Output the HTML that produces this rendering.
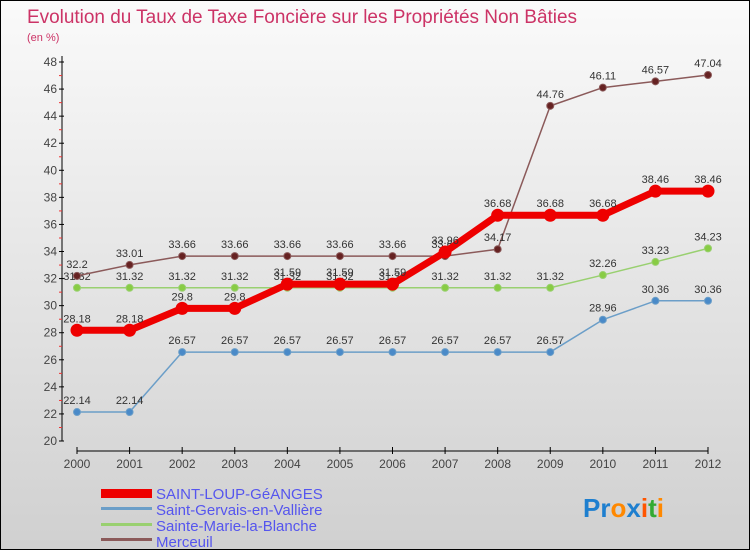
<!DOCTYPE html>
<html><head><meta charset="utf-8"><style>
body{margin:0}
#c{width:748px;height:548px;border:1px solid #000;background:linear-gradient(#fafafa,#d0d0d0);position:relative;font-family:"Liberation Sans",sans-serif}
</style></head><body>
<div id="c">
<svg id="s" width="748" height="548" xmlns="http://www.w3.org/2000/svg">
<text x="26" y="22" font-size="19" fill="#cc3366" textLength="550">Evolution du Taux de Taxe Foncière sur les Propriétés Non Bâties</text>
<text x="26" y="40" font-size="11" fill="#cc3366">(en %)</text>
<g id="axes"></g><g id="series"></g>
<g>
<rect x="100" y="488" width="51" height="9" fill="#ee0000"/>
<text x="155" y="498" font-size="15" fill="#5555ee">SAINT-LOUP-GéANGES</text>
<rect x="100" y="506" width="51" height="3" fill="#6b9ec8"/>
<text x="155" y="514" font-size="15" fill="#5555ee">Saint-Gervais-en-Vallière</text>
<rect x="100" y="522" width="51" height="3" fill="#99d070"/>
<text x="155" y="530" font-size="15" fill="#5555ee">Sainte-Marie-la-Blanche</text>
<rect x="100" y="537" width="51" height="3" fill="#8b5a5a"/>
<text x="155" y="546" font-size="15" fill="#5555ee">Merceuil</text>
</g>
<text x="582" y="516" font-size="26" font-weight="bold"><tspan fill="#1e7fcf">Pr</tspan><tspan fill="#ff8800">o</tspan><tspan fill="#1e7fcf">x</tspan><tspan fill="#ff5500">i</tspan><tspan fill="#33aa33">t</tspan><tspan fill="#ff8800">i</tspan></text>
</svg></div>
<script>
const years=[2000,2001,2002,2003,2004,2005,2006,2007,2008,2009,2010,2011,2012];
const yTicks=[20,22,24,26,28,30,32,34,36,38,40,42,44,46,48];
const saintLoup=[28.18,28.18,29.8,29.8,31.59,31.59,31.59,33.96,36.68,36.68,36.68,38.46,38.46];
const saintGervais=[22.14,22.14,26.57,26.57,26.57,26.57,26.57,26.57,26.57,26.57,28.96,30.36,30.36];
const sainteMarie=[31.32,31.32,31.32,31.32,31.32,31.32,31.32,31.32,31.32,31.32,32.26,33.23,34.23];
const merceuil=[32.2,33.01,33.66,33.66,33.66,33.66,33.66,33.66,34.17,44.76,46.11,46.57,47.04];
const NS="http://www.w3.org/2000/svg";
const xS=i=>76+i*(707-76)/(years.length-1);
const yS=v=>440-(v-20)*(440-61)/28;
function mk(t,a,p){const e=document.createElementNS(NS,t);for(const k in a)e.setAttribute(k,a[k]);p.appendChild(e);return e;}
const ax=document.getElementById('axes');
mk('line',{x1:61,y1:55,x2:61,y2:440,stroke:'#000','stroke-width':1},ax);
mk('line',{x1:76,y1:450,x2:707,y2:450,stroke:'#000','stroke-width':1},ax);
yTicks.forEach((v,k)=>{const y=yS(v);
mk('line',{x1:58,y1:y,x2:63,y2:y,stroke:'#000'},ax);
if(k<yTicks.length-1)mk('line',{x1:58,y1:y-13.5,x2:61,y2:y-13.5,stroke:'#e33'},ax);
const t=mk('text',{x:56,y:y+4,'font-size':12,fill:'#444','text-anchor':'end'},ax);t.textContent=v;

});
years.forEach((yr,i)=>{const x=xS(i);
mk('line',{x1:x,y1:446,x2:x,y2:453,stroke:'#000'},ax);
const t=mk('text',{x:x,y:467,'font-size':12,fill:'#444','text-anchor':'middle'},ax);t.textContent=yr;

});
const sg=document.getElementById('series');
function draw(data,color,w,r,ptFill,name){
const g=mk('g',{},sg);


const p=mk('polyline',{points:data.map((v,i)=>xS(i)+','+yS(v)).join(' '),fill:'none',stroke:color,'stroke-width':w,'stroke-linejoin':'round'},g);


data.forEach((v,i)=>{const c=mk('circle',{cx:xS(i),cy:yS(v),r:r,fill:ptFill,stroke:color,'stroke-width':1},g);


const t=mk('text',{x:xS(i),y:yS(v)-8,'font-size':11,fill:'#333','text-anchor':'middle'},g);t.textContent=v;

});}
draw(saintGervais,'#6b9ec8',1.5,3.5,'#4a8ac8','series-saint-gervais');
draw(sainteMarie,'#99d070',1.5,3.5,'#88cc44','series-sainte-marie');
draw(merceuil,'#8b5a5a',1.5,3.5,'#662222','series-merceuil');
draw(saintLoup,'#ee0000',7,6,'#ee0000','series-saint-loup');
</script>
</body></html>
